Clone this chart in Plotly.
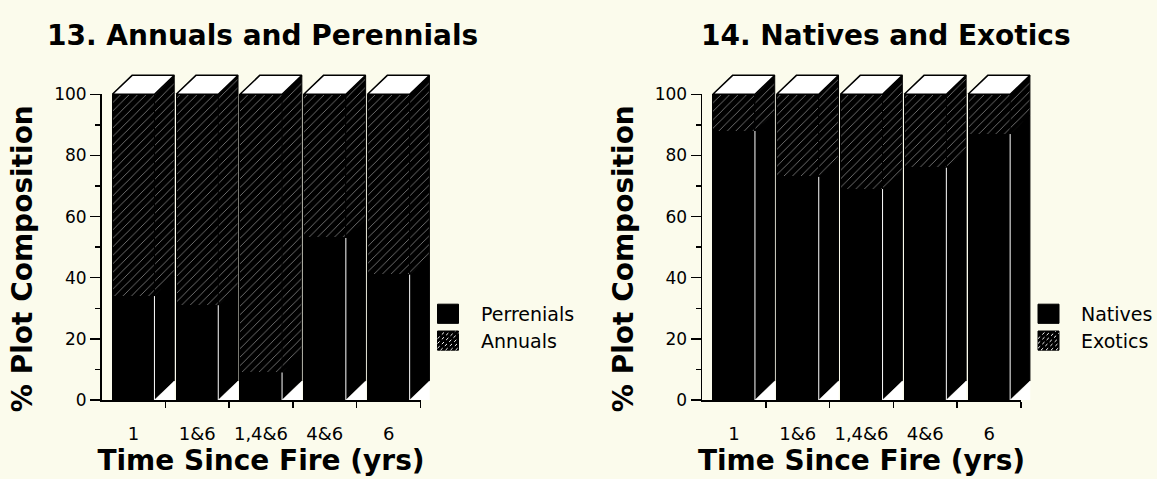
import plotly.graph_objects as go

# ---------------- data ----------------
categories = ["1", "1&6", "1,4&6", "4&6", "6"]
perennials = [34, 31, 9, 53, 41]
annuals = [66, 69, 91, 47, 59]
natives = [88, 73, 69, 76, 87]
exotics = [12, 27, 31, 24, 13]
y_ticks = [0, 20, 40, 60, 80, 100]

# ---------------- style / layout constants ----------------
W, H = 1157, 479
BG = "#fbfbec"
FONT = "DejaVu Sans"
PX_PER_CAT = 63.8
PX_PER_PCT = 3.19
Y0_PX = 407
HALF_W = 0.33      # half width of the front face (category units)
DX = 0.31          # depth offset (category units)
DY = 6.2           # depth offset (percent units)
XMAX_HID = 4.75
YMAX_HID = 107.5
HATCH = dict(shape="/", bgcolor="black", fgcolor="white", size=6, solidity=0.14)
BOLD = 28


def fx(px):
    return px / W


def fy(py):
    return 1 - py / H


fig = go.Figure()

charts = [
    dict(x0=101.5, title_cx=262, ytitle_cx=22, bottom=perennials, top=annuals,
         names=("Perrenials", "Annuals"), title="13. Annuals and Perennials",
         ax=("x", "y"), vis=("x2", "y2")),
    dict(x0=702.0, title_cx=886, ytitle_cx=623, bottom=natives, top=exotics,
         names=("Natives", "Exotics"), title="14. Natives and Exotics",
         ax=("x3", "y3"), vis=("x4", "y4")),
]

layout_axes = {}
annotations = []
shapes = []


def key(a):
    return "xaxis" + a[1:] if a.startswith("x") else "yaxis" + a[1:]


for c in charts:
    xa, ya = c["ax"]
    vxa, vya = c["vis"]
    pos = list(range(len(categories)))
    tot = [b + t for b, t in zip(c["bottom"], c["top"])]

    # front faces (stacked bars)
    fig.add_trace(go.Bar(x=pos, y=c["bottom"], width=2 * HALF_W, xaxis=xa, yaxis=ya,
                         marker=dict(color="black", line=dict(color="black", width=1)),
                         showlegend=False, name=c["names"][0]))
    fig.add_trace(go.Bar(x=pos, y=c["top"], width=2 * HALF_W, xaxis=xa, yaxis=ya,
                         marker=dict(color="black", pattern=HATCH,
                                     line=dict(color="black", width=1)),
                         showlegend=False, name=c["names"][1]))

    # side faces, top faces, floor triangles, edge lines
    sb_x, sb_y, sh_x, sh_y, tp_x, tp_y, tr_x, tr_y, el_x, el_y = ([] for _ in range(10))
    for p, b, t in zip(pos, c["bottom"], tot):
        xl, xr = p - HALF_W, p + HALF_W
        sb_x += [xr, xr + DX, xr + DX, xr, xr, None]
        sb_y += [0, DY, b + DY, b, 0, None]
        sh_x += [xr, xr + DX, xr + DX, xr, xr, None]
        sh_y += [b, b + DY, t + DY, t, b, None]
        tp_x += [xl, xr, xr + DX, xl + DX, xl, None]
        tp_y += [t, t, t + DY, t + DY, t, None]
        tr_x += [xr, xr + DX, xr + DX, xr, None]
        tr_y += [0, 0, DY, 0, None]
        el_x += [xr, xr, None]
        el_y += [0, b, None]

    fig.add_trace(go.Scatter(x=sb_x, y=sb_y, xaxis=xa, yaxis=ya, mode="lines", fill="toself",
                             fillcolor="black", line=dict(color="black", width=1),
                             showlegend=False, hoverinfo="skip"))
    fig.add_trace(go.Scatter(x=sh_x, y=sh_y, xaxis=xa, yaxis=ya, mode="lines", fill="toself",
                             fillcolor="black", fillpattern=HATCH,
                             line=dict(color="black", width=1),
                             showlegend=False, hoverinfo="skip"))
    fig.add_trace(go.Scatter(x=tp_x, y=tp_y, xaxis=xa, yaxis=ya, mode="lines", fill="toself",
                             fillcolor="white", line=dict(color="black", width=1.5),
                             showlegend=False, hoverinfo="skip"))
    fig.add_trace(go.Scatter(x=tr_x, y=tr_y, xaxis=xa, yaxis=ya, mode="lines", fill="toself",
                             fillcolor="white", line=dict(color="white", width=0.5),
                             showlegend=False, hoverinfo="skip"))
    fig.add_trace(go.Scatter(x=el_x, y=el_y, xaxis=xa, yaxis=ya, mode="lines",
                             line=dict(color="white", width=1),
                             showlegend=False, hoverinfo="skip"))
    # empty trace so the visible axis pair is drawn
    fig.add_trace(go.Scatter(x=[], y=[], xaxis=vxa, yaxis=vya, showlegend=False))

    x0 = c["x0"]
    hid_x = [fx(x0), fx(x0 + (XMAX_HID + 0.5) * PX_PER_CAT)]
    hid_y = [fy(Y0_PX), fy(Y0_PX - YMAX_HID * PX_PER_PCT)]
    vis_x = [fx(x0), fx(x0 + len(categories) * PX_PER_CAT)]
    vis_y = [fy(Y0_PX), fy(Y0_PX - 100 * PX_PER_PCT)]

    layout_axes[key(xa)] = dict(domain=hid_x, range=[-0.5, XMAX_HID], anchor=ya,
                                visible=False, fixedrange=True)
    layout_axes[key(ya)] = dict(domain=hid_y, range=[0, YMAX_HID], anchor=xa,
                                visible=False, fixedrange=True)
    layout_axes[key(vxa)] = dict(domain=vis_x, range=[-0.5, len(categories) - 0.5], anchor=vya,
                                 showline=True, linecolor="black", linewidth=1.5,
                                 showgrid=False, zeroline=False,
                                 tickmode="array", tickvals=pos, ticktext=categories,
                                 ticks="", ticklabelstandoff=17,
                                 tickfont=dict(family=FONT, size=18, color="black"),
                                 minor=dict(tickmode="array",
                                            tickvals=[p + 0.5 for p in pos],
                                            ticks="outside", ticklen=6, tickwidth=1.5,
                                            tickcolor="black", showgrid=False),
                                 title=dict(text="<b>Time Since Fire (yrs)</b>", standoff=1,
                                            font=dict(family=FONT, size=BOLD, color="black")),
                                 fixedrange=True)
    layout_axes[key(vya)] = dict(domain=vis_y, range=[0, 100], anchor=vxa,
                                 showline=True, linecolor="black", linewidth=1.5,
                                 showgrid=False, zeroline=False,
                                 tickmode="array", tickvals=y_ticks,
                                 ticks="outside", ticklen=10, tickwidth=1.5, tickcolor="black",
                                 tickfont=dict(family=FONT, size=17, color="black"),
                                 minor=dict(dtick=10, ticks="outside", ticklen=5, tickwidth=1.5,
                                            tickcolor="black", showgrid=False),
                                 fixedrange=True)

    # y-axis title (placed as rotated text)
    annotations.append(dict(text="<b>% Plot Composition</b>", xref="paper", yref="paper",
                            x=fx(c["ytitle_cx"]), y=fy(260), xanchor="center", yanchor="middle",
                            textangle=-90, showarrow=False,
                            font=dict(family=FONT, size=BOLD, color="black")))
    # chart title
    annotations.append(dict(text="<b>" + c["title"] + "</b>", xref="paper", yref="paper",
                            x=fx(c["title_cx"]), y=fy(27), xanchor="center", yanchor="middle",
                            showarrow=False, font=dict(family=FONT, size=BOLD, color="black")))
    # legend (manual swatches + labels)
    for k, nm in enumerate(c["names"]):
        top_px = 307 + 28 * k
        shapes.append(dict(type="rect", xref="paper", yref="paper",
                           x0=fx(x0 + 336), x1=fx(x0 + 357), y0=fy(top_px + 20), y1=fy(top_px),
                           fillcolor="black", line=dict(color="black", width=1)))
        if k == 1:
            segs = []
            for s in range(-12, 21, 5):
                xa0, ya0 = x0 + 336 + max(0, s), top_px + 20 - max(0, -s)
                ln = min(21 - max(0, s), 20 - max(0, -s))
                segs.append(f"M{fx(xa0)},{fy(ya0)} L{fx(xa0 + ln)},{fy(ya0 - ln)}")
            shapes.append(dict(type="path", xref="paper", yref="paper", path=" ".join(segs),
                               line=dict(color="white", width=1, dash="dot")))
        annotations.append(dict(text=nm, xref="paper", yref="paper",
                                x=fx(x0 + 377), y=fy(top_px + 10), xanchor="left",
                                yanchor="middle", showarrow=False,
                                font=dict(family=FONT, size=19, color="black")))

fig.update_layout(
    width=W, height=H, margin=dict(l=0, r=0, t=0, b=0),
    paper_bgcolor=BG, plot_bgcolor="rgba(0,0,0,0)",
    barmode="stack", bargap=0, showlegend=False,
    annotations=annotations, shapes=shapes,
    **layout_axes,
)

fig.write_html(
    "out.html",
    config={"displayModeBar": False, "staticPlot": True},
    post_script="document.body.style.margin='0';document.body.style.padding='0';"
                "document.body.style.background='" + BG + "';"
                "document.documentElement.style.overflow='hidden';",
)
